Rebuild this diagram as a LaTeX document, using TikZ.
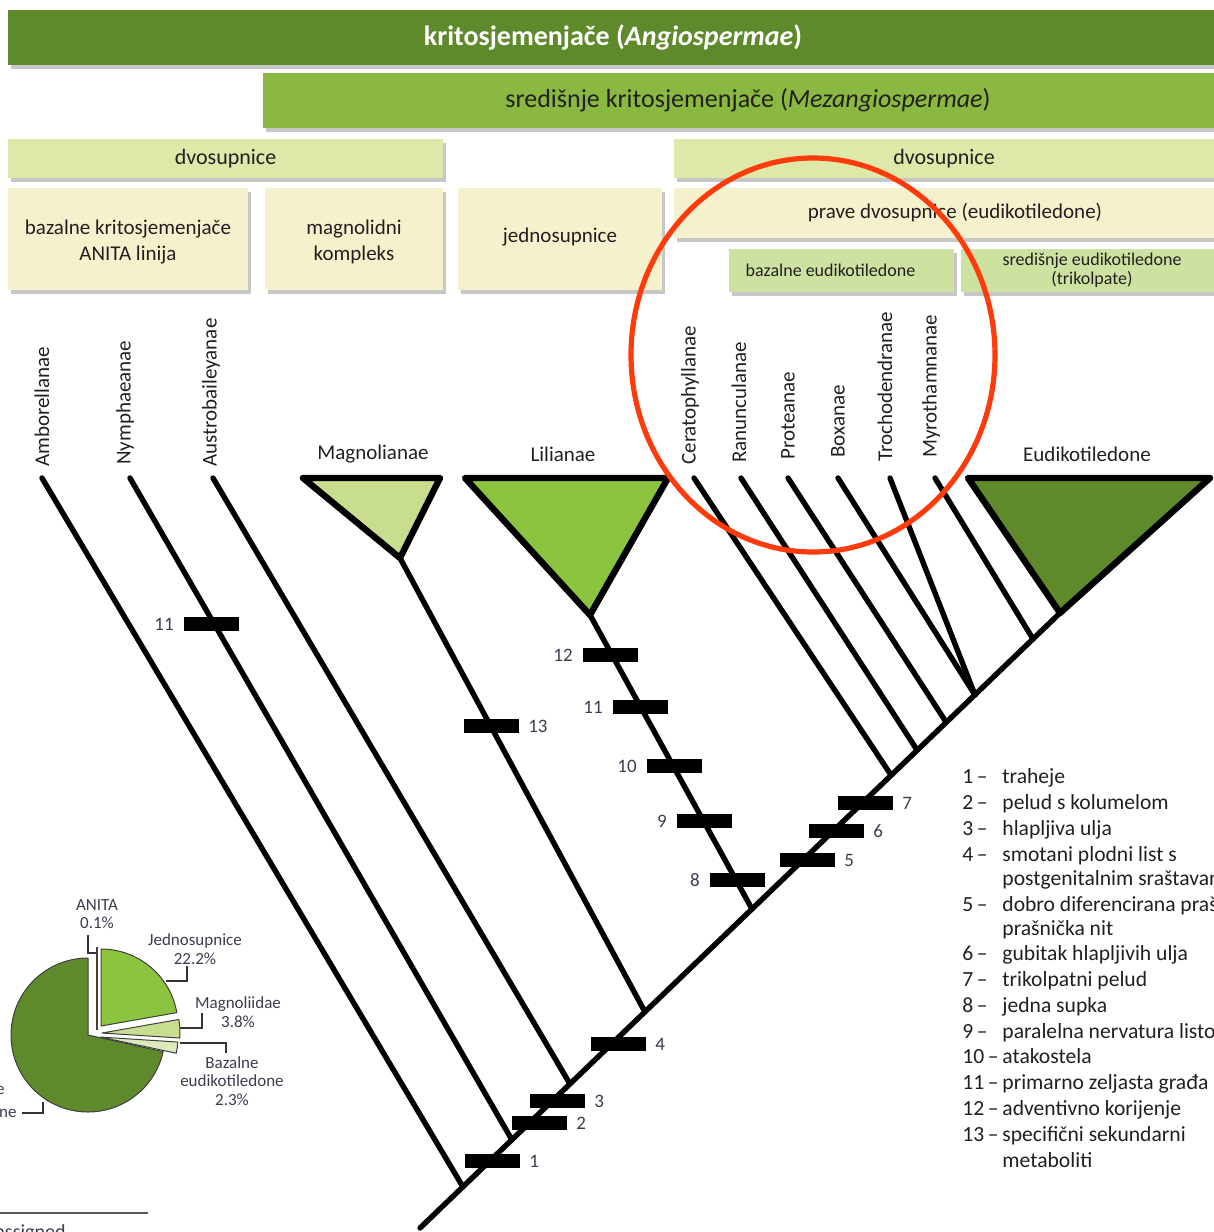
\documentclass[tikz,border=0pt]{standalone}
\usepackage{fontspec}
\setmainfont{Carlito}
\usepackage{tikz}
\usetikzlibrary{shadows}
\pgfdeclarelayer{bg}
\pgfsetlayers{bg,main}
\definecolor{cladeDark}{HTML}{5E8A2B}
\definecolor{cladeMid}{HTML}{8AB840}
\definecolor{cladePale}{HTML}{DDE8A9}
\definecolor{cladeCream}{HTML}{F6F1CD}
\definecolor{cladeSoft}{HTML}{CDE2A0}
\definecolor{liliFill}{HTML}{8CC43F}
\definecolor{magnFill}{HTML}{C8DE8E}
\definecolor{bazFill}{HTML}{DCE9BA}
\definecolor{ringRed}{HTML}{FF3B0C}
\definecolor{numInk}{HTML}{3C3C50}
\definecolor{textInk}{HTML}{231F20}

\begin{document}
\begin{tikzpicture}[x=0.5pt,y=-0.5pt,
  box/.style={inner sep=0pt, align=center, text=textInk,
    drop shadow={shadow xshift=1.5pt,shadow yshift=-2pt,fill=black!22,opacity=1}},
  branch/.style={line width=2.7pt, line cap=round},
  clade/.style={draw=black, line width=3.2pt, line join=round},
  trait/.style={fill=black, inner sep=0pt, minimum width=27.5pt, minimum height=7pt},
  traitnum/.style={font=\fontsize{9.5}{10}\selectfont, text=numInk, inner sep=4.5pt},
  taxon/.style={rotate=90, anchor=west, inner sep=0pt, text=textInk, font=\fontsize{10.5}{12}\selectfont},
  grouplbl/.style={inner sep=0pt, text=textInk, font=\fontsize{10.5}{12}\selectfont},
  slice/.style={draw=black!75, line width=0.5pt, line join=round},
  leader/.style={draw=black!80, line width=0.6pt},
  pielbl/.style={inner sep=0pt, align=center, text=numInk, font=\fontsize{8.5}{9.2}\selectfont},
  keynum/.style={anchor=west, inner sep=0pt, text=textInk, font=\fontsize{10.8}{12}\selectfont, text height=1.5ex, text depth=.25ex},
  keytxt/.style={keynum}]
\useasboundingbox (0,0) rectangle (1214,1232);
\clip (0,0) rectangle (1214,1232);

\node (angio) [box, fill=cladeDark, text=white, minimum width=605pt, minimum height=27.5pt,
  font=\fontsize{14}{15}\selectfont\bfseries] at (613,37.5) {kritosjemenjače (\textit{Angiospermae})};
\node (mezang) [box, fill=cladeMid, minimum width=485pt, minimum height=27.5pt,
  font=\fontsize{13}{15}\selectfont] at (748,100.5) {središnje kritosjemenjače (\textit{Mezangiospermae})};
\node (dvoL) [box, fill=cladePale, minimum width=217.5pt, minimum height=19.5pt,
  font=\fontsize{11}{13}\selectfont] at (225.5,158.5) {dvosupnice};
\node (dvoR) [box, fill=cladePale, minimum width=270pt, minimum height=19.5pt,
  font=\fontsize{11}{13}\selectfont] at (944,158.5) {dvosupnice};
\node (anita) [box, fill=cladeCream, minimum width=120pt, minimum height=51pt,
  font=\fontsize{10.5}{13}\selectfont] at (128,239) {\\[-3pt]bazalne kritosjemenjače\\ANITA linija};
\node (magnk) [box, fill=cladeCream, minimum width=89pt, minimum height=51pt,
  font=\fontsize{10.5}{13}\selectfont] at (354,239) {\\[-3pt]magnolidni\\kompleks};
\node (monok) [box, fill=cladeCream, minimum width=102pt, minimum height=51pt,
  font=\fontsize{10.5}{13}\selectfont] at (560,239) {\\[-8pt]jednosupnice};
\node (eudik) [box, fill=cladeCream, minimum width=281pt, minimum height=25pt,
  font=\fontsize{10.5}{13}\selectfont] at (955,213) {prave dvosupnice (eudikotiledone)};
\node (bazeu) [box, fill=cladeSoft, minimum width=112.5pt, minimum height=21.5pt,
  font=\fontsize{9}{10}\selectfont] at (841.5,270.5) {bazalne eudikotiledone\hspace*{11pt}};
\node (sreeu) [box, fill=cladeSoft, minimum width=131pt, minimum height=21.5pt,
  font=\fontsize{9}{9.5}\selectfont] at (1092,270.5) {središnje eudikotiledone\\(trikolpate)};

\node (tAmb) [taxon] at (42,467) {Amborellanae};
\node (tNym) [taxon] at (125,465) {Nymphaeanae};
\node (tAus) [taxon] at (211,467) {Austrobaileyanae};
\node (tCer) [taxon] at (690,465) {Ceratophyllanae};
\node (tRan) [taxon] at (739,463) {Ranunculanae};
\node (tPro) [taxon] at (788,460) {Proteanae};
\node (tBox) [taxon] at (838,458) {Boxanae};
\node (tTro) [taxon] at (885,462) {Trochodendranae};
\node (tMyr) [taxon] at (931,458) {Myrothamnanae};
\node (gMag) [grouplbl] at (373,454) {Magnolianae};
\node (gLil) [grouplbl] at (563,454) {Lilianae};
\node (gEud) [grouplbl] at (1087,454) {Eudikotiledone};

\coordinate (root) at (420,1228);
\coordinate (j1) at (463,1187);
\coordinate (j2) at (512,1140);
\coordinate (j3) at (570,1084);
\coordinate (j4) at (645,1012);
\coordinate (j5) at (752,909);
\coordinate (j6) at (891,775);
\coordinate (j7) at (917,750);
\coordinate (j8) at (946,722);
\coordinate (j9) at (975,695);
\coordinate (j10) at (1033,639);
\coordinate (eA) at (1060,613);
\coordinate (v1) at (42,478);
\coordinate (v2) at (130,478);
\coordinate (v3) at (213,478);
\coordinate (v4) at (694,478);
\coordinate (v5) at (741,478);
\coordinate (v6) at (788,478);
\coordinate (v7) at (838,478);
\coordinate (v8) at (890,478);
\coordinate (v9) at (935,478);
\coordinate (mL) at (303,478);
\coordinate (mR) at (440,478);
\coordinate (mA) at (400,558);
\coordinate (lL) at (465,478);
\coordinate (lR) at (668,478);
\coordinate (lA) at (590,615);
\coordinate (eL) at (968,478);
\coordinate (eR) at (1210,478);

\draw (root) edge [branch] (eA);
\draw (j1) edge [branch] (v1);
\draw (j2) edge [branch] (v2);
\draw (j3) edge [branch] (v3);
\draw (j4) edge [branch] (mA);
\draw (j5) edge [branch] (lA);
\draw (j6) edge [branch] (v4);
\draw (j7) edge [branch] (v5);
\draw (j8) edge [branch] (v6);
\draw (j9) edge [branch] (v7);
\draw (j9) edge [branch] (v8);
\draw (j10) edge [branch] (v9);
\filldraw [clade, fill=magnFill] (mL) -- (mR) -- (mA) -- cycle;
\filldraw [clade, fill=liliFill] (lL) -- (lR) -- (lA) -- cycle;
\filldraw [clade, fill=cladeDark] (eL) -- (eR) -- (eA) -- cycle;

\node (b1) [trait, label={[traitnum]right:1}] at (492,1161) {};
\node (b2) [trait, label={[traitnum]right:2}] at (539,1123) {};
\node (b3) [trait, label={[traitnum]right:3}] at (557,1101) {};
\node (b4) [trait, label={[traitnum]right:4}] at (618,1044) {};
\node (b5) [trait, label={[traitnum]right:5}] at (807,860) {};
\node (b6) [trait, label={[traitnum]right:6}] at (836,831) {};
\node (b7) [trait, label={[traitnum]right:7}] at (865,803) {};
\node (b8) [trait, label={[traitnum]left:8}] at (737,880) {};
\node (b9) [trait, label={[traitnum]left:9}] at (704,821) {};
\node (b10) [trait, label={[traitnum]left:10}] at (674,766) {};
\node (b11) [trait, label={[traitnum]left:11}] at (640,707) {};
\node (b12) [trait, label={[traitnum]left:12}] at (610,655) {};
\node (b13) [trait, label={[traitnum]right:13}] at (491,726) {};
\node (b11n) [trait, label={[traitnum]left:11}] at (211,624) {};

\foreach \k/\txt/\yy in {1/traheje/778, 2/pelud s kolumelom/804, 3/hlapljiva ulja/830,
  4/smotani plodni list s/856, 5/dobro diferencirana prašnica i/906, 6/gubitak hlapljivih ulja/955,
  7/trikolpatni pelud/981, 8/jedna supka/1007, 9/paralelna nervatura listova/1033,
  10/atakostela/1058, 11/primarno zeljasta građa/1084, 12/adventivno korijenje/1110,
  13/specifični sekundarni/1136}
{
  \node (key\k) [keynum] at (962,\yy) {\k\,–};
  \node (keytxt\k) [keytxt] at (1002,\yy) {\txt};
}
\node (keytxt4b) [keytxt] at (1002,880) {postgenitalnim sraštavanjem};
\node (keytxt5b) [keytxt] at (1002,930) {prašnička nit};
\node (keytxt13b) [keytxt] at (1002,1162) {metaboliti};

\begin{scope}[shift={(88,1035)}, yscale=-1]
  \filldraw [slice, fill=cladeDark] (0,0) -- (90:77) arc [start angle=90, end angle=347.5, radius=77] -- cycle;
  \filldraw [slice, fill=liliFill] (13,9) -- ++(10:77) arc [start angle=10, end angle=90, radius=77] -- cycle;
  \filldraw [slice, fill=magnFill] (14,2) -- ++(-3.7:78) arc [start angle=-3.7, end angle=10, radius=78] -- cycle;
  \filldraw [slice, fill=bazFill] (12,-2) -- ++(-12:78) arc [start angle=-12, end angle=-3.7, radius=78] -- cycle;
  \draw [slice, line width=0.8pt] (9,5) -- ++(90:83);
\end{scope}

\node (pAnita) [pielbl] at (97,914) {ANITA\\0.1\%};
\node (pMono) [pielbl] at (195,949) {Jednosupnice\\22.2\%};
\node (pMagn) [pielbl] at (238,1012) {Magnoliidae\\3.8\%};
\node (pBaz) [pielbl] at (232,1081) {Bazalne\\eudikotiledone\\2.3\%};
\node (pEud) [pielbl, align=right, anchor=north east, font=\fontsize{8.5}{11.5}\selectfont] at (17,1082) {Središnje\hspace*{6pt}\\eudikotiledone};
\coordinate (qA1) at (88,935);
\coordinate (qA2) at (96,953);
\coordinate (qJ1) at (187,966);
\coordinate (qJ2) at (166,981);
\coordinate (qM1) at (202,1013);
\coordinate (qM2) at (180,1028);
\coordinate (qB1) at (180,1043);
\coordinate (qB2) at (226,1053);
\coordinate (qE1) at (22,1113);
\coordinate (qE2) at (43,1102);
\draw [leader] (qA1) |- (qA2);
\draw [leader] (qJ1) |- (qJ2);
\draw [leader] (qM1) |- (qM2);
\draw [leader] (qB1) -| (qB2);
\draw [leader] (qE1) -| (qE2);

\coordinate (rule0) at (0,1213);
\coordinate (rule1) at (148,1213);
\draw [black!65, line width=0.6pt] (rule0) -- (rule1);
\node (unas) [anchor=base east, inner sep=0pt, text=numInk, font=\fontsize{10}{12}\selectfont] at (66,1238) {unassigned};

\draw [ringRed, line width=2.6pt] (813,355) ellipse [x radius=182, y radius=197];
\end{tikzpicture}
\end{document}
